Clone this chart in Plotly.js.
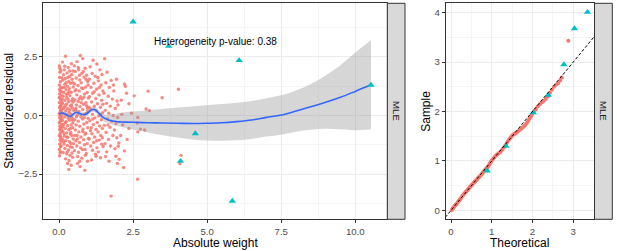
<!DOCTYPE html>
<html>
<head>
<meta charset="utf-8">
<script src="https://cdn.plot.ly/plotly-3.0.1.min.js"></script>
<style>html,body{margin:0;padding:0;background:#fff}#chart{width:617px;height:251px}</style>
</head>
<body>
<div id="chart"></div>
<script>
// ---------- Left panel: residual scatter (red points) ----------
const resX = [
0.01,0.03,0.02,0.05,0.01,0.07,0.04,0.02,0.08,0.03,0.06,0.01,0.09,0.04,0.02,0.07,0.05,0.01,0.03,0.08,0.02,0.06,0.04,0.01,0.09,0.03,0.05,0.02,0.07,0.04,0.01,0.06,0.03,0.08,0.02,0.05,0.01,0.04,0.02,0.06,0.09,0.10,0.09,0.10,0.06,0.08,0.05,0.07,0.03,0.10,0.01,0.04,0.08,0.02,0.06,
0.12,0.22,0.18,0.31,0.42,0.15,0.27,0.36,0.47,0.13,0.21,0.33,0.44,0.19,0.28,0.39,0.11,0.24,0.35,0.48,0.16,0.30,0.41,0.14,0.26,0.37,0.46,0.20,0.32,0.43,0.12,0.25,0.38,0.17,0.29,0.45,0.23,0.34,0.49,0.14,0.27,0.40,0.19,0.31,0.44,0.11,0.24,0.36,0.47,0.16,0.29,0.41,0.21,0.33,0.46,0.13,0.26,0.38,0.18,0.30,0.43,0.12,0.23,0.35,0.48,0.17,0.28,0.40,0.20,0.32,0.45,0.14,0.26,0.37,0.22,0.34,0.46,0.29,0.33,0.41,0.15,0.25,0.39,0.18,0.42,0.28,0.36,0.22,0.47,0.13,0.31,0.44,0.19,0.37,0.26,0.48,0.16,0.34,0.40,0.21,0.45,0.11,0.30,0.38,0.24,0.43,0.17,0.35,0.49,
0.52,0.72,0.80,0.61,0.88,0.55,0.66,0.77,0.93,0.58,0.70,0.84,0.97,0.53,0.64,0.75,0.90,0.57,0.68,0.81,0.95,0.60,0.73,0.86,0.99,0.54,0.65,0.78,0.91,0.59,0.71,0.83,0.96,0.56,0.67,0.80,0.92,0.62,0.74,0.87,0.98,0.53,0.65,0.79,0.94,0.58,0.70,0.84,0.97,0.55,0.67,0.81,0.90,0.61,0.74,0.88,0.99,0.57,0.69,0.83,0.95,0.60,0.73,0.86,0.52,0.66,0.79,0.92,0.63,0.77,0.89,0.63,0.87,0.71,0.96,0.54,0.68,0.82,0.59,0.76,0.93,0.62,0.85,0.98,0.70,0.57,0.80,0.91,0.65,0.75,0.88,0.53,0.97,0.69,0.84,
1.15,1.28,1.05,1.38,1.12,1.22,1.45,1.02,1.33,1.18,1.42,1.08,1.27,1.48,1.14,1.35,1.03,1.24,1.44,1.10,1.30,1.19,1.40,1.06,1.26,1.47,1.13,1.34,1.21,1.43,1.04,1.29,1.16,1.37,1.09,1.25,1.46,1.32,1.11,1.41,1.20,1.02,1.36,1.17,1.44,1.07,1.28,1.49,1.13,1.33,1.23,1.25,1.40,1.10,1.31,1.06,1.39,1.19,1.46,1.14,1.36,1.27,1.01,1.48,
1.54,1.62,1.76,1.94,1.58,1.70,1.85,1.52,1.66,1.80,1.96,1.60,1.73,1.90,1.56,1.68,1.83,1.98,1.64,1.78,1.92,1.53,1.72,1.87,1.59,1.82,1.95,1.67,1.55,1.74,1.89,1.61,1.92,1.69,1.97,1.76,1.84,1.65,1.99,1.57,
2.02,2.00,2.03,2.18,2.21,2.21,2.24,2.36,2.54,2.94,3.05,2.66,2.64,2.66,2.75,2.89,2.36,2.30,2.65,3.01,3.48,4.03,4.12,4.08,2.10,2.15,2.45,2.08,2.28,2.12
];
const resY = [
2.12,1.85,1.62,1.44,1.30,1.21,1.05,0.93,0.86,0.74,0.66,0.55,0.49,0.41,0.33,0.27,0.18,0.10,0.04,-0.03,-0.10,-0.17,-0.25,-0.32,-0.38,-0.46,-0.53,-0.61,-0.70,-0.78,-0.86,-0.95,-1.04,-1.13,-1.22,-1.33,-1.45,-1.58,-1.72,-1.55,1.02,0.58,-0.62,1.60,1.92,0.21,-0.88,-1.30,2.02,-0.15,0.78,-0.02,-0.50,1.12,0.40,
2.28,2.53,1.95,2.05,2.21,1.74,1.82,1.67,1.90,1.51,1.58,1.45,1.55,1.33,1.25,1.38,1.18,1.10,1.15,1.22,0.98,0.94,0.99,0.82,0.77,0.85,0.72,0.65,0.59,0.62,0.52,0.48,0.41,0.36,0.30,0.33,0.20,0.14,0.22,0.08,0.02,0.06,-0.06,-0.12,-0.09,-0.21,-0.26,-0.20,-0.31,-0.38,-0.44,-0.40,-0.55,-0.61,-0.52,-0.68,-0.74,-0.79,-0.88,-0.93,-0.85,-1.02,-1.07,-1.12,-1.00,-1.22,-1.28,-1.19,-1.41,-1.47,-1.36,-1.58,-1.63,-1.70,-1.85,-1.92,-1.78,-2.05,-2.30,-2.12,0.30,0.90,-0.55,1.20,0.45,-1.55,1.90,-0.30,1.40,-0.48,0.70,-1.60,2.10,0.25,-0.92,0.58,-1.12,1.03,-0.72,0.42,-0.18,0.70,1.62,-1.33,1.40,1.75,-0.78,-0.05,-1.20,
2.12,2.56,2.43,2.30,2.02,1.88,1.96,1.80,1.72,1.60,1.52,1.64,1.45,1.35,1.28,1.40,1.22,1.10,1.05,1.15,0.98,0.88,0.80,0.92,0.75,0.66,0.60,0.70,0.55,0.45,0.38,0.48,0.32,0.24,0.17,0.26,0.10,0.02,-0.05,0.05,-0.12,-0.18,-0.24,-0.15,-0.30,-0.40,-0.46,-0.36,-0.52,-0.62,-0.70,-0.58,-0.76,-0.85,-0.92,-0.80,-0.98,-1.08,-1.15,-1.03,-1.20,-1.30,-1.38,-1.25,-1.50,-1.57,-1.45,-1.62,-1.75,-1.82,-1.70,-2.05,-2.34,-2.18,-1.95,1.05,0.72,1.88,-0.05,1.18,0.42,-1.00,-0.10,1.30,-1.95,0.30,-0.68,1.55,2.05,0.55,-1.45,-0.85,0.20,1.72,0.78,
2.36,2.20,2.08,1.95,1.80,1.68,1.75,1.55,1.48,1.38,1.30,1.20,1.12,1.05,0.95,0.88,0.80,0.72,0.65,0.58,0.50,0.40,0.35,0.28,0.20,0.12,0.05,-0.02,-0.10,-0.18,-0.22,-0.30,-0.38,-0.45,-0.52,-0.60,-0.55,-0.70,-0.78,-0.85,-0.92,-1.00,-1.05,-1.15,-1.22,-1.30,-1.38,-1.32,-1.48,-1.55,-1.65,-1.74,-1.80,-1.90,1.62,-0.65,0.05,1.02,-0.95,-0.15,1.20,-1.08,0.35,0.48,
2.42,1.85,1.50,1.55,1.40,1.20,1.05,0.95,0.82,0.70,0.62,0.52,0.40,0.30,0.22,0.10,0.00,-0.08,-0.15,-0.25,-0.35,-0.42,-0.50,-0.62,-0.72,-0.85,-0.95,-1.02,-1.20,-1.30,-1.42,-1.55,-1.74,-1.95,-2.05,-3.44,1.30,-0.40,0.45,-1.75,
-1.17,-1.31,-1.87,-2.22,-1.51,1.35,1.25,0.50,0.84,0.28,0.21,-0.08,-0.32,-0.70,-0.58,-0.62,-0.55,-1.02,-2.72,1.04,0.76,1.12,-1.70,-2.06,0.65,-0.40,0.10,-0.85,0.95,0.05
];
// cyan triangles (left panel)
const triX = [2.50, 3.70, 6.08, 10.53, 4.60, 4.10, 5.85];
const triY = [4.00, 2.96, 2.35, 1.30, -0.77, -1.95, -3.65];
// smooth fit with confidence band
const fitX  = [0,0.1,0.2,0.3,0.4,0.5,0.6,0.7,0.8,0.9,1.0,1.1,1.2,1.3,1.4,1.5,1.6,1.7,1.8,1.9,2.0,2.2,2.5,3.0,3.5,4.0,4.5,5.0,5.5,6.0,6.5,7.0,7.5,8.0,8.5,9.0,9.5,10.0,10.53];
const fitY  = [0.07,0.11,0.08,0.00,-0.03,0.08,0.14,0.08,0.04,0.05,0.14,0.24,0.26,0.16,0.02,-0.09,-0.15,-0.20,-0.23,-0.25,-0.27,-0.28,-0.29,-0.31,-0.32,-0.33,-0.34,-0.33,-0.31,-0.26,-0.19,-0.08,0.02,0.19,0.37,0.57,0.78,1.03,1.31];
const fitLo = [-0.05,0.01,-0.02,-0.10,-0.13,-0.02,0.04,-0.02,-0.06,-0.05,0.04,0.14,0.16,0.05,-0.11,-0.24,-0.30,-0.35,-0.39,-0.42,-0.45,-0.52,-0.60,-0.72,-0.84,-0.94,-1.02,-1.07,-1.08,-1.06,-1.00,-0.90,-0.82,-0.69,-0.61,-0.57,-0.59,-0.63,-0.59];
const fitHi = [0.19,0.21,0.18,0.10,0.07,0.18,0.24,0.18,0.14,0.15,0.24,0.34,0.36,0.27,0.15,0.06,0.03,0.04,0.06,0.08,0.10,0.14,0.17,0.23,0.28,0.34,0.39,0.44,0.49,0.55,0.62,0.74,0.86,1.07,1.35,1.71,2.15,2.69,3.21];
const noteText = "Heterogeneity p-value: 0.38";

// ---------- Right panel: QQ plot ----------
const qqTheo = [0.02,0.04,0.06,0.08,0.10,0.12,0.14,0.16,0.18,0.20,0.22,0.24,0.26,0.28,0.30,0.32,0.34,0.36,0.38,0.40,0.42,0.44,0.46,0.48,0.50,0.52,0.54,0.56,0.58,0.60,0.62,0.64,0.66,0.68,0.70,0.72,0.74,0.76,0.78,0.80,0.82,0.84,0.86,0.88,0.90,0.92,0.94,0.96,0.98,1.00,
1.03,1.06,1.09,1.12,1.15,1.18,1.21,1.24,1.27,1.30,1.33,1.36,1.39,1.42,1.45,1.48,1.51,1.54,1.57,1.60,1.63,1.66,1.69,1.72,1.75,1.78,1.81,1.84,1.87,1.90,1.93,1.96,1.99,
2.03,2.08,2.13,2.18,2.23,2.28,2.33,2.38,2.43,2.48,2.53,2.58,2.63,2.68,2.72,2.88];
const qqSample = [0.01,0.04,0.05,0.08,0.10,0.12,0.13,0.16,0.18,0.20,0.22,0.24,0.27,0.29,0.31,0.33,0.35,0.37,0.39,0.41,0.43,0.45,0.47,0.49,0.51,0.52,0.54,0.56,0.58,0.59,0.61,0.63,0.65,0.67,0.68,0.70,0.72,0.74,0.76,0.78,0.80,0.82,0.84,0.86,0.88,0.90,0.93,0.96,0.98,1.01,
1.04,1.07,1.10,1.12,1.14,1.16,1.18,1.21,1.24,1.28,1.31,1.35,1.39,1.43,1.46,1.49,1.52,1.54,1.55,1.57,1.59,1.61,1.63,1.65,1.67,1.69,1.72,1.75,1.78,1.82,1.86,1.90,1.94,
1.99,2.04,2.10,2.15,2.19,2.22,2.26,2.31,2.38,2.44,2.50,2.54,2.57,2.63,2.69,3.43];
const qqTriTheo = [0.89, 1.35, 2.02, 2.39, 2.77, 3.03, 3.35];
const qqTriSample = [0.80, 1.30, 1.98, 2.33, 2.95, 3.68, 4.01];
const refLine = [-1, 5];
const stripLabel = "MLE";

// ---------- Layout in pixels ----------
const W = 617, H = 251;
const px = v => v / W, py = v => 1 - v / H;
const RED = '#F8766D', CYAN = '#00BFC4';

const traces = [
  {x: resX, y: resY, type: 'scatter', mode: 'markers', xaxis: 'x', yaxis: 'y',
   marker: {color: RED, size: 3.4, opacity: 0.85}, hoverinfo: 'skip'},
  {x: fitX, y: fitLo, type: 'scatter', mode: 'lines', xaxis: 'x', yaxis: 'y',
   line: {width: 0, color: 'rgba(0,0,0,0)', shape: 'spline'}, hoverinfo: 'skip'},
  {x: fitX, y: fitHi, type: 'scatter', mode: 'lines', xaxis: 'x', yaxis: 'y', fill: 'tonexty',
   fillcolor: 'rgba(153,153,153,0.4)', line: {width: 0, color: 'rgba(0,0,0,0)', shape: 'spline'}, hoverinfo: 'skip'},
  {x: fitX, y: fitY, type: 'scatter', mode: 'lines', xaxis: 'x', yaxis: 'y',
   line: {color: '#3366FF', width: 1.6, shape: 'spline'}, hoverinfo: 'skip'},
  {x: triX, y: triY, type: 'scatter', mode: 'markers', xaxis: 'x', yaxis: 'y',
   marker: {color: CYAN, size: 6.5, symbol: 'triangle-up'}, hoverinfo: 'skip'},
  {x: qqTheo, y: qqSample, type: 'scatter', mode: 'markers', xaxis: 'x2', yaxis: 'y2',
   marker: {color: RED, size: 4}, hoverinfo: 'skip'},
  {x: qqTriTheo, y: qqTriSample, type: 'scatter', mode: 'markers', xaxis: 'x2', yaxis: 'y2',
   marker: {color: CYAN, size: 6.5, symbol: 'triangle-up'}, hoverinfo: 'skip'},
  {x: refLine, y: refLine, type: 'scatter', mode: 'lines', xaxis: 'x2', yaxis: 'y2',
   line: {color: '#000000', width: 1, dash: '3px,2px'}, hoverinfo: 'skip'}
];

const axisBase = {
  showline: true, mirror: true, linecolor: '#333333', linewidth: 1,
  ticks: 'outside', ticklen: 3, tickwidth: 1, tickcolor: '#333333',
  tickfont: {size: 9.6, color: '#4D4D4D', family: 'Liberation Sans, Arial, sans-serif'},
  showgrid: true, gridcolor: '#EBEBEB', gridwidth: 1, zeroline: false, fixedrange: true
};
const minorGrid = d => ({dtick: d, tick0: 0, showgrid: true, gridcolor: '#EBEBEB', gridwidth: 0.5, ticks: ''});
const yDom = [py(219.3), py(3.3)];

const layout = {
  width: W, height: H, margin: {l: 0, r: 0, t: 0, b: 0},
  paper_bgcolor: '#FFFFFF', plot_bgcolor: '#FFFFFF', showlegend: false,
  font: {family: 'Liberation Sans, Arial, sans-serif', color: '#000000'},
  xaxis: Object.assign({}, axisBase, {domain: [px(43.3), px(386.7)], range: [-0.53, 11.06], anchor: 'y',
    tick0: 0, dtick: 2.5, tickformat: '.1f', minor: minorGrid(1.25)}),
  yaxis: Object.assign({}, axisBase, {domain: yDom, range: [-4.43, 4.79], anchor: 'x',
    tick0: 0, dtick: 2.5, tickformat: '.1f', minor: minorGrid(1.25)}),
  xaxis2: Object.assign({}, axisBase, {domain: [px(445.7), px(594)], range: [-0.13, 3.51], anchor: 'y2',
    tick0: 0, dtick: 1, minor: minorGrid(0.5)}),
  yaxis2: Object.assign({}, axisBase, {domain: yDom, range: [-0.18, 4.19], anchor: 'x2',
    tick0: 0, dtick: 1, minor: minorGrid(0.5)}),
  shapes: [
    {type: 'rect', xref: 'paper', yref: 'paper', x0: px(387.3), x1: px(405), y0: yDom[0], y1: yDom[1],
     fillcolor: '#D9D9D9', line: {color: '#333333', width: 1}},
    {type: 'rect', xref: 'paper', yref: 'paper', x0: px(594.5), x1: px(612.3), y0: yDom[0], y1: yDom[1],
     fillcolor: '#D9D9D9', line: {color: '#333333', width: 1}}
  ],
  annotations: [
    {text: noteText, xref: 'x', yref: 'y', x: 5.28, y: 3.18, showarrow: false,
     font: {size: 10, color: '#000000'}, xanchor: 'center', yanchor: 'middle'},
    {text: stripLabel, xref: 'paper', yref: 'paper', x: px(396.2), y: py(111.3), showarrow: false,
     textangle: 90, font: {size: 9.6, color: '#1A1A1A'}, xanchor: 'center', yanchor: 'middle'},
    {text: stripLabel, xref: 'paper', yref: 'paper', x: px(603.4), y: py(111.3), showarrow: false,
     textangle: 90, font: {size: 9.6, color: '#1A1A1A'}, xanchor: 'center', yanchor: 'middle'},
    {text: 'Standardized residual', xref: 'paper', yref: 'paper', x: px(9.5), y: py(111.3), showarrow: false,
     textangle: -90, font: {size: 12, color: '#000000'}, xanchor: 'center', yanchor: 'middle'},
    {text: 'Absolute weight', xref: 'paper', yref: 'paper', x: px(215), y: py(242.5), showarrow: false,
     font: {size: 12, color: '#000000'}, xanchor: 'center', yanchor: 'middle'},
    {text: 'Sample', xref: 'paper', yref: 'paper', x: px(426.5), y: py(111.3), showarrow: false,
     textangle: -90, font: {size: 12, color: '#000000'}, xanchor: 'center', yanchor: 'middle'},
    {text: 'Theoretical', xref: 'paper', yref: 'paper', x: px(519.8), y: py(242.5), showarrow: false,
     font: {size: 12, color: '#000000'}, xanchor: 'center', yanchor: 'middle'}
  ]
};

Plotly.newPlot('chart', traces, layout, {staticPlot: true, displayModeBar: false});
</script>
</body>
</html>
